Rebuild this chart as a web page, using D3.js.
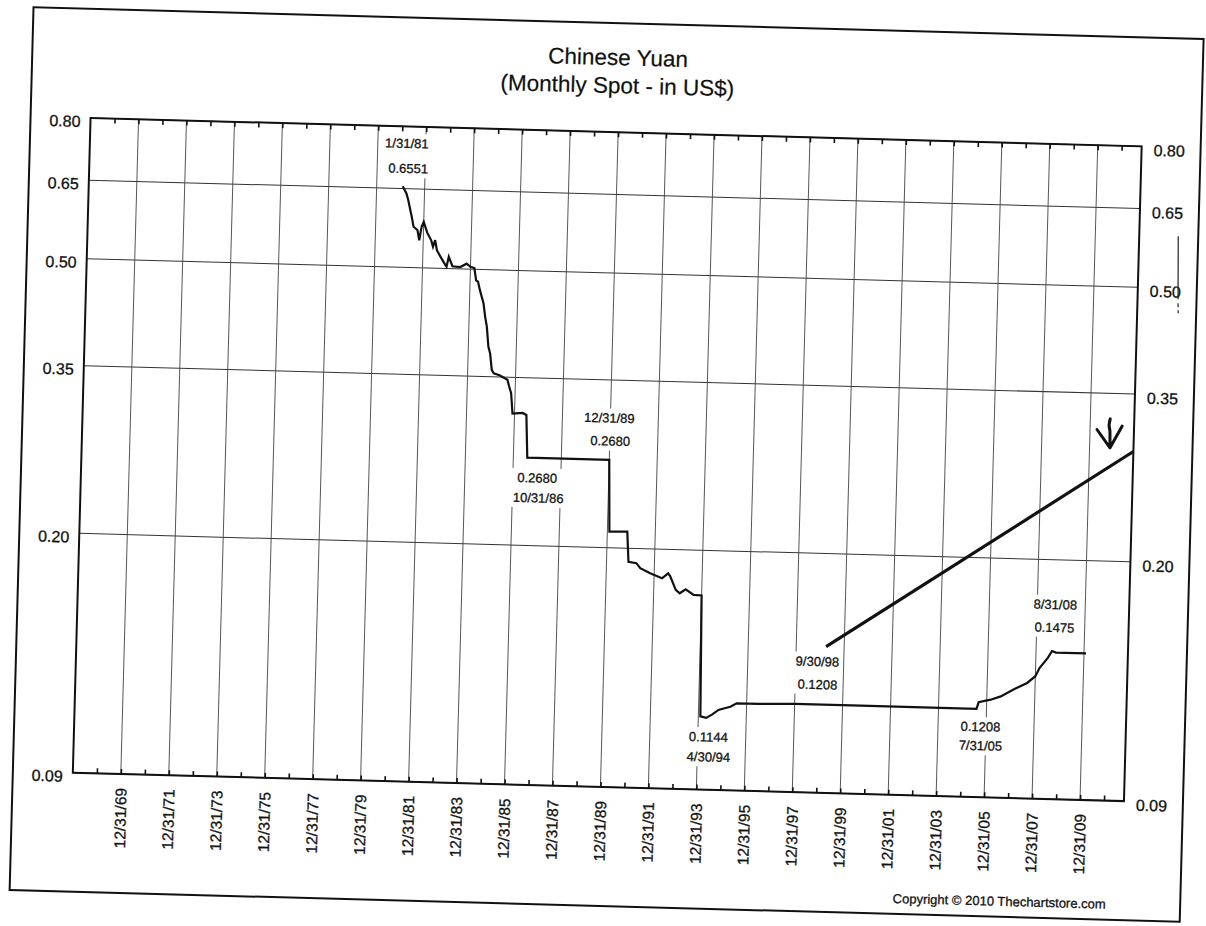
<!DOCTYPE html>
<html><head><meta charset="utf-8">
<script src="https://cdn.jsdelivr.net/npm/d3@7"></script>
<style>html,body{margin:0;padding:0;background:#fff;} svg{display:block;} text{stroke:#111;stroke-width:0.3px;}</style>
</head><body>
<svg id="chart" width="1206" height="926"></svg>
<script>
// ---------------- DATA ----------------
const titleLines = ["Chinese Yuan", "(Monthly Spot - in US$)"];
const yTickValues = [0.09, 0.20, 0.35, 0.50, 0.65, 0.80];
const yTickLabels = ["0.09", "0.20", "0.35", "0.50", "0.65", "0.80"];
const xLabelDates = ["1969-12-31","1971-12-31","1973-12-31","1975-12-31","1977-12-31","1979-12-31",
  "1981-12-31","1983-12-31","1985-12-31","1987-12-31","1989-12-31","1991-12-31","1993-12-31",
  "1995-12-31","1997-12-31","1999-12-31","2001-12-31","2003-12-31","2005-12-31","2007-12-31","2009-12-31"];
const xTickLabels = ["12/31/69","12/31/71","12/31/73","12/31/75","12/31/77","12/31/79",
  "12/31/81","12/31/83","12/31/85","12/31/87","12/31/89","12/31/91","12/31/93",
  "12/31/95","12/31/97","12/31/99","12/31/01","12/31/03","12/31/05","12/31/07","12/31/09"];
const xDomain = ["1967-12-31", "2011-10-31"];
const minorTickYears = d3.range(1968, 2011); // 12/31 of each year

const spotDates = [
  "1981-01-31","1981-03-31","1981-04-30","1981-06-30","1981-07-31","1981-09-30","1981-10-31","1981-11-30","1981-12-31",
  "1982-02-28","1982-04-30","1982-05-31","1982-06-30","1982-07-31","1982-09-30","1982-11-30","1982-12-31",
  "1983-01-31","1983-03-31","1983-07-31","1983-10-31","1983-12-31",
  "1984-02-29","1984-03-31","1984-04-30","1984-05-31","1984-07-31","1984-08-31","1984-09-30","1984-10-31","1984-11-30","1984-12-31",
  "1985-01-31","1985-04-30","1985-08-31","1985-09-30","1985-10-31","1985-11-30",
  "1986-04-30","1986-06-30","1986-07-31","1989-12-31",
  "1990-01-31","1990-10-31","1990-11-30",
  "1991-03-31","1991-05-31","1991-10-31",
  "1992-04-30","1992-07-31","1992-08-31","1992-11-30",
  "1993-01-31","1993-04-30","1993-08-31","1993-12-31",
  "1994-01-31","1994-04-30","1994-07-31","1994-10-31",
  "1995-01-31","1995-04-30","1995-07-31","1996-06-30","1997-12-31","2000-09-30","2004-01-31","2005-07-31",
  "2005-08-31","2006-02-28","2006-07-31","2007-01-31","2007-08-31","2007-12-31",
  "2008-02-29","2008-06-30","2008-08-31","2008-10-31","2010-01-31"];
const spotValues = [
  0.6551,0.640,0.626,0.592,0.573,0.567,0.548,0.573,0.583,
  0.562,0.549,0.537,0.549,0.531,0.519,0.508,0.503,
  0.520,0.504,0.503,0.509,0.504,
  0.502,0.482,0.480,0.467,0.447,0.427,0.413,0.387,0.378,0.358,
  0.354,0.352,0.347,0.339,0.332,0.310,
  0.311,0.309,0.268,0.268,
  0.2110,0.2113,0.1912,
  0.1904,0.1873,0.1843,
  0.1815,0.1846,0.1830,0.1748,
  0.1729,0.1753,0.1722,0.1720,
  0.1149,0.1144,0.1158,0.1176,
  0.1183,0.1190,0.1204,0.1204,0.1208,0.1208,0.1208,0.1208,
  0.1235,0.1247,0.1262,0.1292,0.1323,0.1354,
  0.1392,0.1441,0.1475,0.1468,0.1468];

const trendDates = ["1999-03-31", "2011-10-31"];
const trendValues = [0.1466, 0.289];

const noteDates  = ["1981-01-31","1989-12-31","1986-10-31","1994-04-30","1998-09-30","2005-07-31","2008-08-31"];
const noteValues = [0.6551, 0.2680, 0.2680, 0.1144, 0.1208, 0.1208, 0.1475];
const noteTexts  = [["1/31/81","0.6551"],["12/31/89","0.2680"],["0.2680","10/31/86"],["0.1144","4/30/94"],
                    ["9/30/98","0.1208"],["0.1208","7/31/05"],["8/31/08","0.1475"]];
const copyrightText = "Copyright \u00A9 2010 Thechartstore.com";

// ---------------- LAYOUT ----------------
const FONT = "'Liberation Sans', Arial, Helvetica, sans-serif";
const plot = {left: 81.5, right: 1133, top: 132, bottom: 787};
const noteOffsets = [[[3,-43],[5,-18]],[[-1,-42],[0.5,-19]],[[4.5,20],[6,40]],[[2.7,19],[3.3,39]],
                     [[3.7,-43],[4.3,-20]],[[4.5,17.7],[5,36.7]],[[2,-46.5],[1.7,-23.5]]];

const parse = d3.utcParse("%Y-%m-%d");
const x = d3.scaleUtc().domain(xDomain.map(parse)).range([plot.left, plot.right]);
const y = d3.scaleLog().domain([0.09, 0.8]).range([plot.bottom, plot.top]);

const svg = d3.select("#chart");
svg.append("rect").attr("width",1206).attr("height",926).attr("fill","#fff");
const g = svg.append("g").attr("transform","rotate(1.55,607,459.5)");

// outer frame
g.append("rect").attr("x",21.5).attr("y",23).attr("width",1170.5).attr("height",883)
  .attr("fill","none").attr("stroke","#111").attr("stroke-width",2);

// title
g.append("text").attr("x",(plot.left+plot.right)/2).attr("y",65).attr("text-anchor","middle")
  .attr("font-family",FONT).attr("font-size",22.5).attr("fill","#111").style("stroke-width","0.2px").text(titleLines[0]);
g.append("text").attr("x",(plot.left+plot.right)/2).attr("y",93).attr("text-anchor","middle")
  .attr("font-family",FONT).attr("font-size",22.5).attr("fill","#111").style("stroke-width","0.2px").text(titleLines[1]);

// gridlines
const grid = g.append("g");
grid.selectAll("line.h").data(yTickValues).join("line").attr("class","h")
  .attr("x1",plot.left).attr("x2",plot.right).attr("y1",d=>y(d)).attr("y2",d=>y(d))
  .attr("stroke","#333").attr("stroke-width",1);
grid.selectAll("line.v").data(xLabelDates.map(parse)).join("line").attr("class","v")
  .attr("x1",d=>x(d)).attr("x2",d=>x(d)).attr("y1",plot.top).attr("y2",plot.bottom)
  .attr("stroke","#444").attr("stroke-width",0.9);

// minor ticks top & bottom (inward)
const yearDates = minorTickYears.map(yr => new Date(Date.UTC(yr,11,31)));
const tb = g.append("g").attr("transform",`translate(0,${plot.bottom})`)
  .call(d3.axisBottom(x).tickValues(yearDates).tickSize(-5).tickFormat(""));
const tt = g.append("g").attr("transform",`translate(0,${plot.top})`)
  .call(d3.axisTop(x).tickValues(yearDates).tickSize(-5).tickFormat(""));
[tb,tt].forEach(a=>{a.select(".domain").remove(); a.selectAll("line").attr("stroke","#111").attr("stroke-width",1.6);});

// x labels
const xl = g.append("g").attr("transform",`translate(0,${plot.bottom})`)
  .call(d3.axisBottom(x).tickValues(xLabelDates.map(parse)).tickSize(0).tickFormat((d,i)=>xTickLabels[i]));
xl.select(".domain").remove();
xl.selectAll("text").attr("transform","rotate(-90)").attr("x",-14).attr("y",0).attr("dy","0.36em")
  .attr("text-anchor","end").attr("font-family",FONT).attr("font-size",15.5).attr("fill","#111");

// y labels left & right
const yl = g.append("g").attr("transform",`translate(${plot.left},0)`)
  .call(d3.axisLeft(y).tickValues(yTickValues).tickSize(0).tickPadding(10).tickFormat((d,i)=>yTickLabels[i]));
const yr = g.append("g").attr("transform",`translate(${plot.right},0)`)
  .call(d3.axisRight(y).tickValues(yTickValues).tickSize(0).tickPadding(12).tickFormat((d,i)=>yTickLabels[i]));
[yl,yr].forEach(a=>{a.select(".domain").remove();
  a.selectAll("text").attr("dy","0.55em").attr("font-family",FONT).attr("font-size",16).attr("fill","#111");});

// plot frame
g.append("rect").attr("x",plot.left).attr("y",plot.top).attr("width",plot.right-plot.left)
  .attr("height",plot.bottom-plot.top).attr("fill","none").attr("stroke","#111").attr("stroke-width",2);

// series
const series = spotDates.map((d,i)=>({date:parse(d), value:spotValues[i]}));
const line = d3.line().x(d=>x(d.date)).y(d=>y(d.value));
g.append("path").datum(series).attr("d",line).attr("fill","none")
  .attr("stroke","#111").attr("stroke-width",2.2).attr("stroke-linejoin","miter");

// trend line
const trend = trendDates.map((d,i)=>({date:parse(d), value:trendValues[i]}));
g.append("path").datum(trend).attr("d",line).attr("fill","none")
  .attr("stroke","#111").attr("stroke-width",3.2);

// annotations
noteDates.forEach((nd,i)=>{
  const ax = x(parse(nd)), ay = y(noteValues[i]);
  const grp = g.append("g");
  const bg = grp.append("rect").attr("fill","#fff");
  noteTexts[i].forEach((t,j)=>grp.append("text")
    .attr("x",ax+noteOffsets[i][j][0]).attr("y",ay+noteOffsets[i][j][1]).attr("dy","0.35em")
    .attr("text-anchor","middle").attr("font-family",FONT).attr("font-size",13).attr("fill","#111").text(t));
  const bb = grp.node().getBBox();
  bg.attr("x",bb.x-3).attr("y",bb.y-2).attr("width",bb.width+6).attr("height",bb.height+4);
});

// hand-drawn marks
const tx = x(parse(trendDates[1])), ty = y(trendValues[1]);
g.append("path").attr("d",`M${tx-24},${ty-32} Q${tx-26},${ty-26} ${tx-24},${ty-20} L${tx-23.5},${ty-3} M${tx-37},${ty-21} L${tx-23.5},${ty-3} L${tx-12},${ty-25}`)
  .attr("fill","none").attr("stroke","#111").attr("stroke-width",3).attr("stroke-linecap","round").attr("stroke-linejoin","round");
const m5 = y(0.5);
g.append("path").attr("d",`M${plot.right+39},${m5-52} L${plot.right+40.5},${m5+11} M${plot.right+40.6},${m5+15} L${plot.right+40.8},${m5+19} M${plot.right+40.9},${m5+22} L${plot.right+41},${m5+25}`)
  .attr("stroke","#222").attr("stroke-width",1.2).attr("fill","none");

// copyright
g.append("text").attr("x",1011).attr("y",895).attr("text-anchor","middle")
  .attr("font-family",FONT).attr("font-size",13).attr("fill","#111").text(copyrightText);
</script>
</body></html>
